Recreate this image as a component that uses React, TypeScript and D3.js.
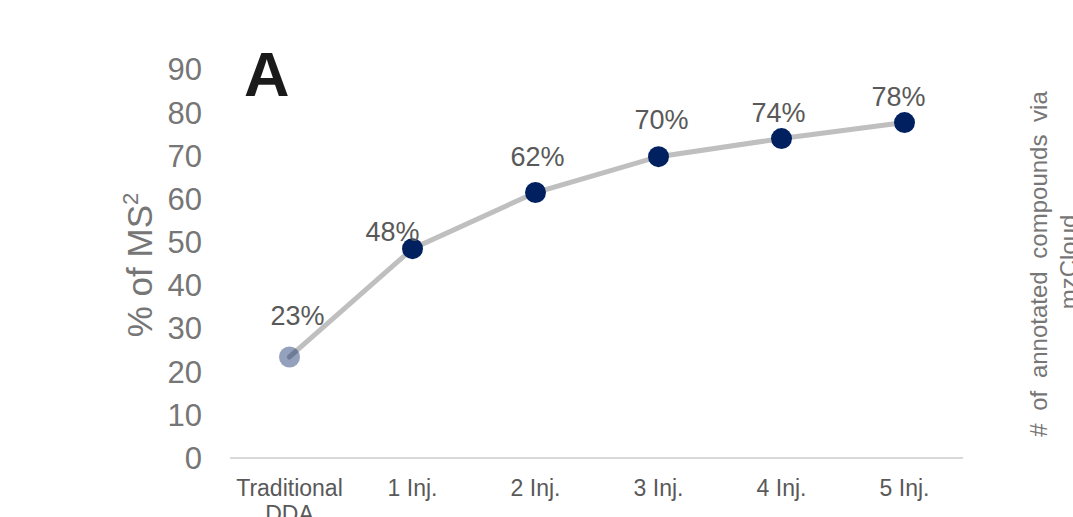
import React from "react";
import * as d3 from "d3";

const categories = ["Traditional\nDDA", "1 Inj.", "2 Inj.", "3 Inj.", "4 Inj.", "5 Inj."];
const values = [23.4, 48.5, 61.5, 69.8, 74.0, 77.7];
const valueLabels = ["23%", "48%", "62%", "70%", "74%", "78%"];
const yTicks = [0, 10, 20, 30, 40, 50, 60, 70, 80, 90];
const labelOffsetX = [8, -20, 2, 3, -3, -6];
const labelOffsetY = [-41, -17, -36, -37, -26, -26];

const W = 1073;
const H = 517;
const FONT = "'Liberation Sans', Arial, sans-serif";

export default function App() {
  const x = d3.scaleBand<string>().domain(categories).range([228, 966]);
  const y = d3.scaleLinear().domain([0, 90]).range([458, 69.5]);
  const cx = (i: number) => (x(categories[i]) as number) + x.bandwidth() / 2;
  const line = d3
    .line<number>()
    .x((_, i) => cx(i))
    .y((d) => y(d));

  return (
    <svg
      width={W}
      height={H}
      style={{ position: "absolute", left: 0, top: 0, display: "block", background: "#fff" }}
      fontFamily={FONT}
    >
      {/* y tick labels */}
      {yTicks.map((t) => (
        <text
          key={t}
          x={202}
          y={y(t)}
          dy="0.35em"
          textAnchor="end"
          fontSize={31}
          fill="#767676"
        >
          {t}
        </text>
      ))}
      {/* y axis title */}
      <text
        transform={`translate(152, 265) rotate(-90)`}
        textAnchor="middle"
        fontSize={35}
        fill="#767676"
      >
        % of MS
        <tspan fontSize={22} dy={-14}>
          2
        </tspan>
      </text>
      {/* x axis line */}
      <line x1={230} x2={963} y1={y(0)} y2={y(0)} stroke="#d9d9d9" strokeWidth={2} />
      {/* x labels */}
      {categories.map((c, i) => (
        <text key={c} x={cx(i)} y={496} textAnchor="middle" fontSize={23} fill="#595959">
          {c.split("\n").map((part, j) => (
            <tspan key={j} x={cx(i)} dy={j === 0 ? 0 : 26}>
              {part}
            </tspan>
          ))}
        </text>
      ))}
      {/* line */}
      <path d={line(values) || ""} fill="none" stroke="#bfbfbf" strokeWidth={5} strokeLinecap="round" />
      {/* markers */}
      {values.map((v, i) => (
        <circle
          key={i}
          cx={cx(i)}
          cy={y(v)}
          r={10.5}
          fill="#002060"
          fillOpacity={i === 0 ? 0.42 : 1}
        />
      ))}
      {/* data labels */}
      {values.map((v, i) => (
        <text
          key={i}
          x={cx(i) + labelOffsetX[i]}
          y={y(v) + labelOffsetY[i]}
          dy="0.35em"
          textAnchor="middle"
          fontSize={27}
          fill="#595959"
        >
          {valueLabels[i]}
        </text>
      ))}
      {/* panel letter */}
      <text x={244} y={96} fontSize={63} fontWeight="bold" fill="#1a1a1a">
        A
      </text>
      {/* secondary axis title */}
      <text
        transform={`translate(1047, 264) rotate(-90)`}
        textAnchor="middle"
        fontSize={24}
        fill="#767676"
        wordSpacing={6}
      >
        # of annotated compounds via
      </text>
      <text
        transform={`translate(1077, 262) rotate(-90)`}
        textAnchor="middle"
        fontSize={24}
        fill="#767676"
      >
        mzCloud
      </text>
    </svg>
  );
}
